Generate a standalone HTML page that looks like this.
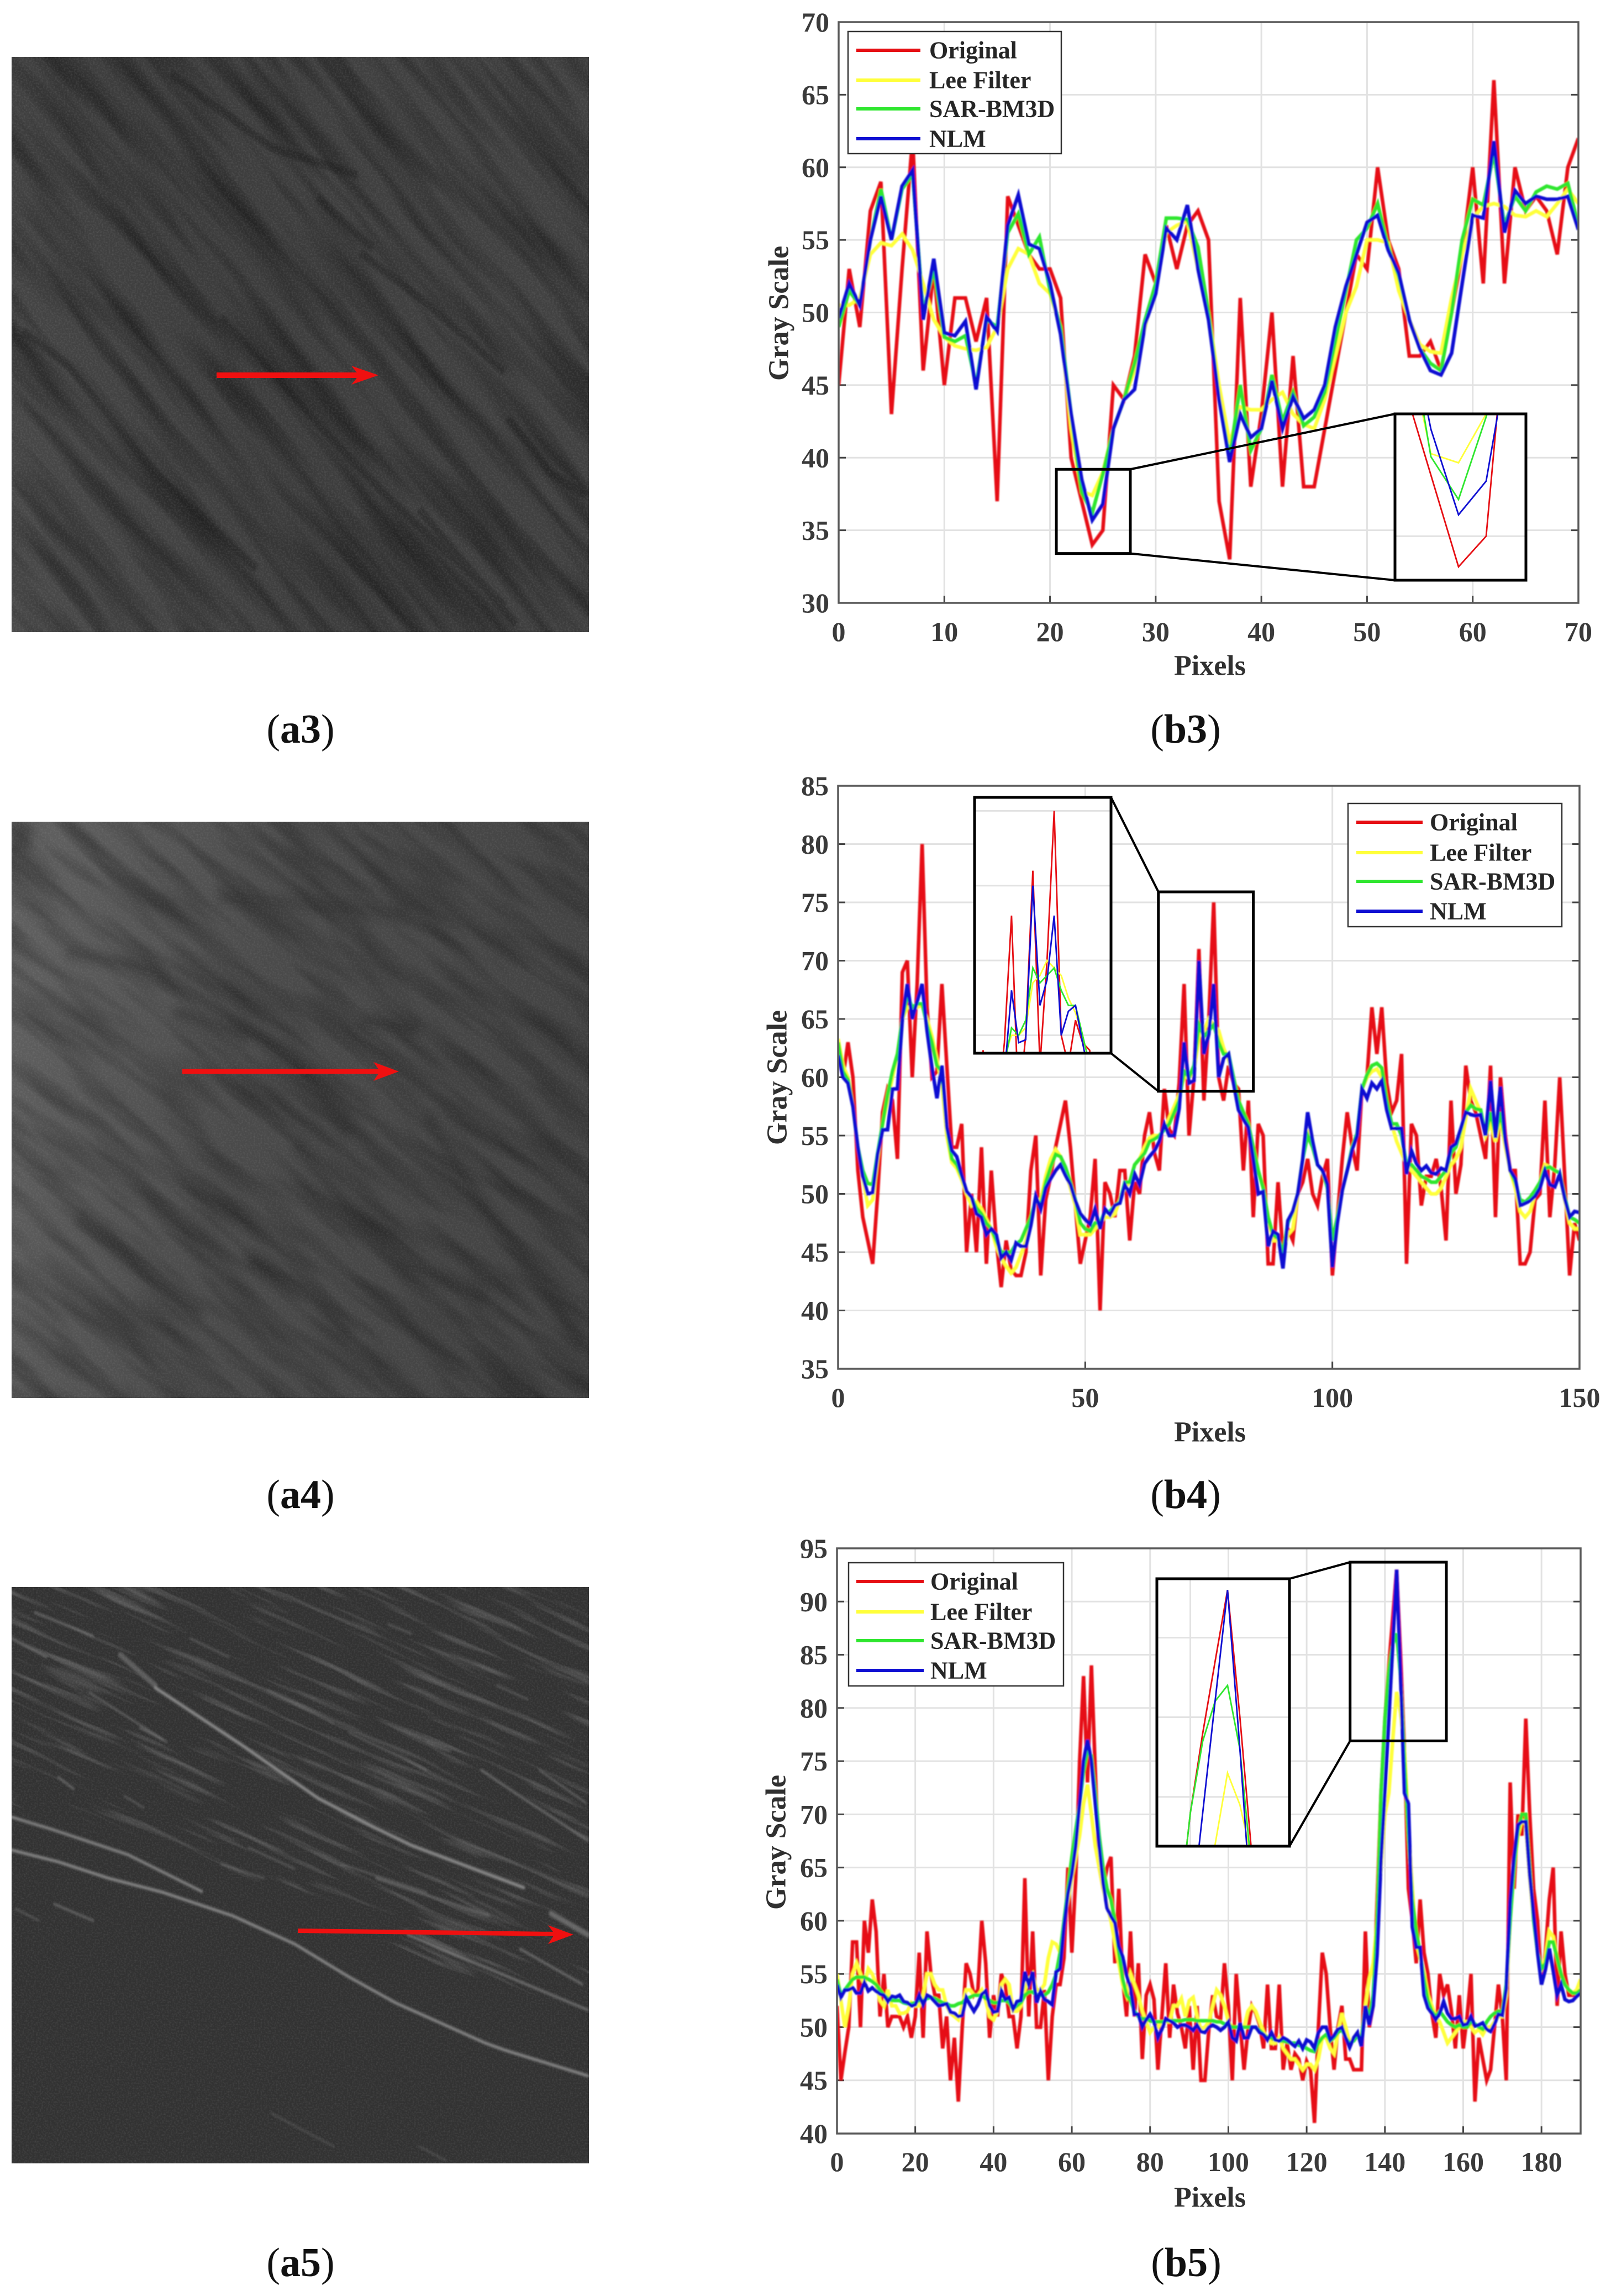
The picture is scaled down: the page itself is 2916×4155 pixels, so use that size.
<!DOCTYPE html>
<html lang="en">
<head>
<meta charset="utf-8">
<title>SAR images and gray-scale profiles</title>
<style>
html,body{margin:0;padding:0;background:#fff;width:2916px;height:4155px;overflow:hidden;}
svg{display:block;}
text{font-family:"Liberation Serif",serif;}
.tick{font-size:50px;font-weight:bold;fill:#3a3a3a;}
.title{font-size:52px;font-weight:bold;fill:#303030;text-anchor:middle;dominant-baseline:central;}
.leg{font-size:44px;font-weight:bold;fill:#262626;dominant-baseline:central;}
.cap{font-size:74px;fill:#111;text-anchor:middle;dominant-baseline:central;}
.cap tspan.b{font-weight:bold;}
.legbox{fill:#fff;stroke:#333;stroke-width:2.5;}
.s{fill:none;stroke-linejoin:miter;}
.s-original{stroke:#e60f14;}
.s-lee{stroke:#ffff3a;}
.s-bm3d{stroke:#2fe62f;}
.s-nlm{stroke:#0f0fd2;}
.grid{stroke:#e2e2e2;stroke-width:3;}
.axis{fill:none;stroke:#5a5a5a;stroke-width:3.5;}
.tk{stroke:#444;stroke-width:3;}
.frame{fill:none;stroke:#000;stroke-width:5;}
.conn{stroke:#000;stroke-width:4;}
</style>
</head>
<body>
<svg xmlns="http://www.w3.org/2000/svg" width="2916" height="4155" viewBox="0 0 2916 4155">
<defs>
  <filter id="soft" x="-2%" y="-2%" width="104%" height="104%"><feGaussianBlur stdDeviation="1.1"/></filter>
  <filter id="b10" x="-30%" y="-30%" width="160%" height="160%"><feGaussianBlur stdDeviation="10"/></filter>
  <filter id="b3" x="-20%" y="-20%" width="140%" height="140%"><feGaussianBlur stdDeviation="2.6"/></filter>
  <filter id="streakA" x="0" y="0" width="100%" height="100%" color-interpolation-filters="sRGB">
    <feTurbulence type="fractalNoise" baseFrequency="0.0028 0.030" numOctaves="3" seed="7"/>
    <feGaussianBlur stdDeviation="3"/>
    <feColorMatrix values="0 0 0 0 0  0 0 0 0 0  0 0 0 0 0  1.5 0 0 0 -0.58"/>
  </filter>
  <filter id="streakB" x="0" y="0" width="100%" height="100%" color-interpolation-filters="sRGB">
    <feTurbulence type="fractalNoise" baseFrequency="0.0045 0.028" numOctaves="3" seed="21"/>
    <feGaussianBlur stdDeviation="3"/>
    <feColorMatrix values="0 0 0 0 0  0 0 0 0 0  0 0 0 0 0  1.4 0 0 0 -0.52"/>
  </filter>
  <filter id="streakC" x="0" y="0" width="100%" height="100%" color-interpolation-filters="sRGB">
    <feTurbulence type="fractalNoise" baseFrequency="0.005 0.07" numOctaves="3" seed="11"/>
    <feGaussianBlur stdDeviation="1.2"/>
    <feColorMatrix values="0 0 0 0 .62  0 0 0 0 .62  0 0 0 0 .62  3.6 0 0 0 -1.95"/>
  </filter>
  <filter id="grain" x="0" y="0" width="100%" height="100%" color-interpolation-filters="sRGB">
    <feTurbulence type="fractalNoise" baseFrequency="0.32" numOctaves="2" seed="3"/>
    <feColorMatrix values="0 0 0 0 1  0 0 0 0 1  0 0 0 0 1  1.2 0 0 0 -0.48"/>
  </filter>
  <pattern id="patA" patternUnits="userSpaceOnUse" x="-257" y="-177" width="1600" height="1600" patternTransform="rotate(50 543 623)">
    <rect width="1600" height="1600" filter="url(#streakA)"/>
  </pattern>
  <pattern id="patB" patternUnits="userSpaceOnUse" x="-257" y="1208" width="1600" height="1600" patternTransform="rotate(38 543 2008)">
    <rect width="1600" height="1600" filter="url(#streakB)"/>
  </pattern>
  <pattern id="patC" patternUnits="userSpaceOnUse" x="-257" y="2593" width="1600" height="1600" patternTransform="rotate(24 543 3393)">
    <rect width="1600" height="1600" filter="url(#streakC)"/>
  </pattern>
  <linearGradient id="a3shade" x1="0" y1="1" x2="1" y2="0.6">
    <stop offset="0" stop-color="#4a4a4a"/><stop offset="0.5" stop-color="#3c3c3c"/><stop offset="1" stop-color="#414141"/>
  </linearGradient>
  <linearGradient id="a4shade" x1="0" y1="0.4" x2="1" y2="0.6">
    <stop offset="0" stop-color="#5e5e5e"/><stop offset="0.4" stop-color="#4a4a4a"/><stop offset="1" stop-color="#424242"/>
  </linearGradient>
  <clipPath id="clip-a3"><rect x="21" y="103" width="1045" height="1041"/></clipPath>
  <clipPath id="clip-a4"><rect x="21" y="1487" width="1045" height="1043"/></clipPath>
  <clipPath id="clip-a5"><rect x="21" y="2872" width="1045" height="1043"/></clipPath>
  <clipPath id="clip-a5-upper"><polygon points="21,2872 1066,2872 1066,3640 800,3560 500,3420 300,3340 21,3290"/></clipPath>
</defs>
<rect width="2916" height="4155" fill="#fff"/>

<!-- SAR image a3 -->
<g clip-path="url(#clip-a3)">
  <rect x="21" y="103" width="1045" height="1041" fill="url(#a3shade)"/>
  <rect x="21" y="103" width="1045" height="1041" fill="url(#patA)" opacity=".6"/>
  <g transform="translate(21,103) scale(.7024,.829) translate(-30,-52)" fill="none" stroke="#151515" stroke-width="18" opacity=".34" filter="url(#b3)">
    <path d="M60 650L180 730L400 960L660 1170"/>
    <path d="M440 90L700 250L920 310"/>
    <path d="M570 620L850 880L1010 1020L1300 1250"/>
    <path d="M930 480L1100 590L1300 740"/>
    <path d="M1310 840L1420 960L1510 1010"/>
    <path d="M820 360L960 470"/>
    <path d="M1080 1040L1330 1290"/>
  </g>
  <rect x="21" y="103" width="1045" height="1041" filter="url(#grain)" opacity=".16"/>
</g>
<g>
  <line x1="392" y1="679" x2="650" y2="679" stroke="#f01010" stroke-width="10"/>
  <polygon points="685,679 636,662 650,679 636,696" fill="#f01010"/>
</g>

<!-- SAR image a4 -->
<g clip-path="url(#clip-a4)">
  <rect x="21" y="1487" width="1045" height="1043" fill="url(#a4shade)"/>
  <rect x="21" y="1487" width="1045" height="1043" fill="url(#patB)" opacity=".5"/>
  <g transform="translate(21,1487) scale(.7024,.829) translate(-30,-57)" fill="none" stroke="#1a1a1a" stroke-width="26" opacity=".32" filter="url(#b10)">
    <path d="M170 340L400 380L620 500L760 570L900 740"/>
    <path d="M450 470L640 530"/>
    <path d="M930 490L1080 510"/>
    <path d="M1100 700L1250 900L1500 1200"/>
    <path d="M760 760L900 900L1040 1020L1250 1100"/>
    <path d="M640 1010L800 1080L900 1180"/>
    <path d="M200 920L380 1050L520 1130"/>
    <path d="M560 220L1050 260" opacity=".7"/>
    <path d="M30 90L80 90" stroke-width="60" opacity="2"/>
  </g>
  <rect x="21" y="1487" width="1045" height="1043" filter="url(#grain)" opacity=".14"/>
</g>
<g>
  <line x1="330" y1="1939" x2="690" y2="1939" stroke="#f01010" stroke-width="9"/>
  <polygon points="722,1939 676,1922 688,1939 676,1956" fill="#f01010"/>
</g>

<!-- SAR image a5 -->
<g clip-path="url(#clip-a5)">
  <rect x="21" y="2872" width="1045" height="1043" fill="#323232"/>
  <g clip-path="url(#clip-a5-upper)">
    <rect x="21" y="2872" width="1045" height="1043" fill="url(#patC)" opacity=".32"/>
  </g>
  <rect x="21" y="2872" width="1045" height="1043" filter="url(#grain)" opacity=".14"/>
  <g transform="translate(21,2872) scale(.7024,.8514) translate(-30,-61)" fill="none" stroke="#939393" stroke-linecap="round" filter="url(#b3)">
    <path stroke-width="6" opacity=".85" d="M30 550L130 575L330 630L520 708"/>
    <path stroke-width="6" opacity=".9" d="M30 620L150 645L280 680L420 710L600 760L760 820L900 890L1020 945L1250 1030L1300 1045L1515 1100"/>
    <path stroke-width="7" opacity=".9" d="M400 275L620 395L820 510L960 570L1060 610L1350 700"/>
    <path stroke-width="12" opacity=".45" d="M310 205L400 270"/>
    <path stroke-width="5" opacity=".5" d="M30 170L120 210"/>
    <path stroke-width="5" opacity=".5" d="M90 115L240 165"/>
    <path stroke-width="4" opacity=".5" d="M230 285L420 385"/>
    <path stroke-width="4" opacity=".5" d="M360 360L430 390"/>
    <path stroke-width="5" opacity=".5" d="M150 465L190 490"/>
    <path stroke-width="4" opacity=".4" d="M320 505L370 530"/>
    <path stroke-width="4" opacity=".4" d="M570 650L680 680"/>
    <path stroke-width="4" opacity=".4" d="M640 615L760 660"/>
    <path stroke-width="5" opacity=".5" d="M970 680L1260 760"/>
    <path stroke-width="4" opacity=".4" d="M880 650L1100 710"/>
    <path stroke-width="5" opacity=".65" d="M1050 800L1515 960"/>
    <path stroke-width="5" opacity=".6" d="M1340 830L1500 905"/>
    <path stroke-width="5" opacity=".55" d="M1240 450L1330 500L1515 600"/>
    <path stroke-width="4" opacity=".4" d="M900 370L1100 450"/>
    <path stroke-width="4" opacity=".4" d="M1100 390L1160 410"/>
    <path stroke-width="4" opacity=".5" d="M1390 450L1510 520"/>
    <path stroke-width="12" opacity=".55" d="M1420 755L1515 800"/>
    <path stroke-width="4" opacity=".4" d="M490 170L590 210"/>
    <path stroke-width="4" opacity=".4" d="M1000 140L1060 160"/>
    <path stroke-width="5" opacity=".5" d="M140 735L240 770"/>
    <path stroke-width="4" opacity=".4" d="M40 745L100 770"/>
    <path stroke-width="4" opacity=".3" d="M700 1180L860 1250"/>
    <path stroke-width="4" opacity=".4" d="M1280 270L1360 300"/>
    <path stroke-width="4" opacity=".35" d="M690 280L860 350"/>
    <path stroke-width="4" opacity=".3" d="M1080 1250L1150 1280"/>
  </g>
</g>
<g>
  <line x1="539" y1="3494" x2="1005" y2="3500" stroke="#f01010" stroke-width="8"/>
  <polygon points="1038,3501 992,3484 1004,3500 992,3518" fill="#f01010"/>
</g>

<!-- Chart b3 -->
<g>
  <g id="b3-plot"></g>
  <g>
    <rect class="legbox" x="1535" y="57" width="386" height="221"/>
    <line class="s s-original" stroke-width="6" x1="1550" y1="91" x2="1666" y2="91"/>
    <text class="leg" x="1682" y="91">Original</text>
    <line class="s s-lee" stroke-width="6" x1="1550" y1="145" x2="1666" y2="145"/>
    <text class="leg" x="1682" y="145">Lee Filter</text>
    <line class="s s-bm3d" stroke-width="6" x1="1550" y1="197" x2="1666" y2="197"/>
    <text class="leg" x="1682" y="197">SAR-BM3D</text>
    <line class="s s-nlm" stroke-width="6" x1="1550" y1="251" x2="1666" y2="251"/>
    <text class="leg" x="1682" y="251">NLM</text>
  </g>
  <text class="title" x="2190" y="1205">Pixels</text>
  <text class="title" transform="translate(1410,567) rotate(-90)">Gray Scale</text>
</g>

<!-- Chart b4 -->
<g>
  <g id="b4-plot"></g>
  <g>
    <rect class="legbox" x="2440" y="1454" width="387" height="223"/>
    <line class="s s-original" stroke-width="6" x1="2455" y1="1488" x2="2575" y2="1488"/>
    <text class="leg" x="2588" y="1488">Original</text>
    <line class="s s-lee" stroke-width="6" x1="2455" y1="1543" x2="2575" y2="1543"/>
    <text class="leg" x="2588" y="1543">Lee Filter</text>
    <line class="s s-bm3d" stroke-width="6" x1="2455" y1="1595" x2="2575" y2="1595"/>
    <text class="leg" x="2588" y="1595">SAR-BM3D</text>
    <line class="s s-nlm" stroke-width="6" x1="2455" y1="1649" x2="2575" y2="1649"/>
    <text class="leg" x="2588" y="1649">NLM</text>
  </g>
  <text class="title" x="2190" y="2592">Pixels</text>
  <text class="title" transform="translate(1407,1950) rotate(-90)">Gray Scale</text>
</g>

<!-- Chart b5 -->
<g>
  <g id="b5-plot"></g>
  <g>
    <rect class="legbox" x="1536" y="2828" width="389" height="223"/>
    <line class="s s-original" stroke-width="6" x1="1550" y1="2862" x2="1672" y2="2862"/>
    <text class="leg" x="1684" y="2862">Original</text>
    <line class="s s-lee" stroke-width="6" x1="1550" y1="2917" x2="1672" y2="2917"/>
    <text class="leg" x="1684" y="2917">Lee Filter</text>
    <line class="s s-bm3d" stroke-width="6" x1="1550" y1="2969" x2="1672" y2="2969"/>
    <text class="leg" x="1684" y="2969">SAR-BM3D</text>
    <line class="s s-nlm" stroke-width="6" x1="1550" y1="3023" x2="1672" y2="3023"/>
    <text class="leg" x="1684" y="3023">NLM</text>
  </g>
  <text class="title" x="2190" y="3977">Pixels</text>
  <text class="title" transform="translate(1405,3334) rotate(-90)">Gray Scale</text>
</g>

<!-- Captions -->
<text class="cap" x="544" y="1320">(<tspan class="b">a3</tspan>)</text>
<text class="cap" x="2146" y="1320">(<tspan class="b">b3</tspan>)</text>
<text class="cap" x="544" y="2705">(<tspan class="b">a4</tspan>)</text>
<text class="cap" x="2146" y="2705">(<tspan class="b">b4</tspan>)</text>
<text class="cap" x="544" y="4095">(<tspan class="b">a5</tspan>)</text>
<text class="cap" x="2147" y="4095">(<tspan class="b">b5</tspan>)</text>
</svg>

<script>
/* ---------- Chart b3 values (index = pixel) ---------- */
const b3XTicks = [0,10,20,30,40,50,60,70];
const b3YTicks = [30,35,40,45,50,55,60,65,70];
const b3Original = [
45,53,49,57,59,43,53,62,46,53,
45,51,51,48,51,37,58,56,54,53,
53,51,40,37,34,35,45,44,47,54,
52,56,53,56,57,55,37,33,51,38,
43,50,38,47,38,38,42,46,50,54,
53,60,55,53,47,47,48,46,50,54,
60,52,66,52,60,57,58,57,54,60,
62];
const b3Lee = [
50.5,50.5,51,54,54.8,54.6,55.4,54.3,52,49.5,
48.3,47.7,47.5,47.4,47.6,49,53,54.4,54,52,
51.3,49,42,37.7,37.4,39,42,44,46,49,
52,55.5,56,56.3,53,50,45,41,43.5,43.3,
43.3,44,44.5,43,42.3,42,44,47,50,51.8,
55,55,54.8,51.5,49.5,47.8,47.3,47.2,51,54,
56.5,57.3,57.5,57.3,56.7,56.6,57,56.6,57.5,58.5,
57.5];
const b3Bm3d = [
49,51.5,50.5,55,58.5,55,58.5,59.5,50,53,
48.3,48,48.4,45,49.5,49,55.5,56.8,54,55.2,
51.5,49,43,37.6,36.2,38.9,42,44,46.5,49.5,
52,56.5,56.5,56.4,54.5,50,44,40,45,40.5,
42,45.7,42.5,44.5,42.2,42.8,44.5,48,51.5,55,
55.8,57.5,54.5,52.5,49.5,47.5,46.5,46,50,55,
57.8,57.4,61,56,58,57,58.3,58.7,58.5,58.9,
56];
const b3Nlm = [
49.6,52,50.5,55,58,55,58.7,59.8,49.5,53.7,
48.6,48.4,49.4,44.7,49.7,48.7,56,58.1,54.7,54.4,
52,48.5,43,38.5,35.7,36.8,42,44,44.7,49.2,
51.3,55.8,55,57.4,53,49.5,44,39.7,43,41.4,
42,45.3,42,44.2,42.7,43.3,45,49,51.8,54,
56.2,56.7,54.3,52.7,49.5,47.5,46,45.7,47.2,52,
56.7,56.5,61.8,55.5,58.4,57.5,58,57.8,57.8,58,
55.7];

/* ---------- Chart b4 values ---------- */
const b4XTicks = [0,50,100,150];
const b4YTicks = [35,40,45,50,55,60,65,70,75,80,85];
const b4Original = [
62,60,63,60,52,48,46,44,50,57,
59,58,53,69,70,60,68,80,66,60,
60.5,68,61,54,54,56,45,50,45,54,
44,52,46,42,46,43.5,43,43,45,52,
55,43,49.5,51.5,54,56,58,54,49,44,
46,48,53,40,51,50,48,52,52,46,
51,50,55,57,53.5,52,59,55.5,55,59.5,
68,55,60,71,58,65,75,60,58,61,
59.5,59,52,58,48,56,55,44,44,51,
45,47,46,50,51,53,50,49,51.5,53,
43,48,53,57,54,52,59,60,66,62,
66,59.5,57,58,62,44,56,55,49,51.5,
51.5,53,50.5,46,58,50,52.5,61,58,57,
55,53,61,48,60,55,52,52,44,44,
45,49.5,50,58,48,52.5,60,51.5,43,47.5,
46];
const b4Lee = [
63.3,61,60,57.5,54,51.5,49,49.5,53,56,
58,60,62,65,66,66,66,66.2,65,63.5,
61.5,59.5,55,52.7,52.2,51.2,50,49,49.3,48.7,
47.8,47,45.5,44.5,43.8,43.2,43.7,44.8,46,48,
49.5,49.5,51.5,53,53.8,53.2,52,50.5,49,46.5,
46.5,46.5,47,47.5,48,48,48.3,49.5,50.5,51,
52.5,53,54,54.8,55,55,55.5,56.5,57.5,58.5,
60,60,60.5,63.5,64,65,64.5,64,62.5,61.5,
60,58,57,56,54,52,50.5,48,46,46,
45,46.5,47,50,53,55.5,54,52.5,52,50.5,
46,48,50.3,52,54,55,59,60,60.5,60.7,
60,57.5,56,54.5,53.5,52.5,52,51.5,51,50.5,
50,50,50.5,51.5,52.5,53,54,56.5,59,58,
57,55,56,54.5,56.5,54,52,50.5,48.5,48,
48.5,50,51,52.5,52.3,52,51.8,49.5,47.5,47,
47];
const b4Bm3d = [
63,60.5,59.8,57.5,54,52,50.9,50.8,53.5,56,
58.5,60.5,62,65,67,66,66.3,66.3,64.5,63,
61,60.5,55.7,53,52.5,51.5,50.2,49.7,48.8,48.3,
47.5,47,46,45,45,45,45.7,46,47,48,
49.5,49,51,52.3,53.4,53.2,52.3,51,49.5,47.5,
47,46.8,47.5,47.5,48.5,48.5,49,49.3,51,51,
52.5,53,53.5,54.5,54.7,55,55.5,56,57,58,
60.5,60,61,64.5,63.5,64,64.5,63,62,62,
60,58,57,56,54,52,50.5,48,46.5,46.2,
45,47.5,48.5,50,53,55,54,52.5,52,50.5,
46,48,50.3,52,54,55.2,59,60.2,61,61.2,
60.8,58,56,56,55,52.5,52.5,52,51.5,51.3,
51,51,51.5,52,53.5,54,55.5,57,57.6,57.3,
57.2,55,57,55,57,54.5,52,51,49.5,49.3,
49.7,50.3,51,52.2,52.3,52,51.8,49.8,48,47.8,
47.5];
const b4Nlm = [
61.9,60,59.5,57.5,54,51.5,50,50.1,53.4,55.5,
55.5,59,59,65,68,65,66.5,68,64,60.8,
58.2,61,55.7,53.7,53.2,51.6,50.2,49.7,48.3,48,
46.5,47,46.5,44.5,45,44.3,45.8,45.5,45.5,47.3,
49.8,48.7,50.5,51.3,52,52.5,51.6,50.8,49.4,48.3,
47.8,47.4,48.7,47,48.7,48.2,49,49.2,50.8,50,
51.7,50.8,52.6,53.2,53.7,54.5,56,55,55,57.3,
63,59.5,59.7,70,62,63.7,68,60,61.6,62,
59.5,57.2,56.4,55.7,53,50,50.2,45.5,46.8,46.5,
43.6,47.7,48.5,50,53,57,54.5,52.5,52,50.8,
43.7,47.5,50.3,52,53.8,55,59,58.2,59.5,59,
59.7,57.2,55.6,55.6,55.6,51.7,53.7,52.6,52,52.4,
51.8,51.7,52.2,52,54,54.3,55.6,57,56.8,56.7,
56.8,55,59.7,54.8,59.2,54.5,52,51.3,49,49.2,
49.4,49.8,50.5,52,50.8,50.6,51.7,49.6,48,48.5,
48.4];

/* ---------- Chart b5 values ---------- */
const b5XTicks = [0,20,40,60,80,100,120,140,160,180];
const b5YTicks = [40,45,50,55,60,65,70,75,80,85,90,95];
const b5Original = [
52,45,47.6,50,58,58,50,60,57,62,
59,51,55,50,51,51,51,50,51,49,
51,57,49,59,55,53,53,48,51,45,
49,43,50,56,55,53,53.5,60,56,49,
53,51,55,54,51,51,48,51,64,51,
59,50,50,53.5,45,51,54,54,56.5,65,
57,64,75,83,73,84,74,65,63,65,
66,56,63,54.5,51,59,51,56,47,53,
54,52.6,46,51,56,49,54,51.3,50,48,
52,46,52,45,45,49.7,53,51,50.8,56,
52,45,55,50.3,46,49.7,52,51.3,50.2,48,
54,48,48,54,46,48.5,46,47.5,47,45,
46.8,46,41,50,57,55,50,46,50,52,
47,47,46,46,46,59,50,52,62,72,
79,84,88.5,93,85,76,63,60,56,62,
57,55,51.3,49,55,53,54,51.5,48,53,
48,51,55,43,49,47,45,46,50,54,
51,45,73,63,70,68,79,70,63,60,
54,57,62,65,52,59,55,53,53,53,
53.5];
const b5Lee = [
55,52.5,50,52,55,56,55,54,55.5,55,
54,52.5,52,53.5,52,52,51.3,51.3,51.5,52.3,
52,52,53,55,55,54,53.5,53.5,52,51.3,
51,50.7,52,53.5,53.5,53,53,53.5,52.5,51,
50.7,51.5,54,54.5,54,51.5,51.5,52,53.5,54.5,
55,53.5,53.5,54,56.5,58,57.8,57,60,62,
64,66,68,71,72.8,70,67,65,63,61.5,
60,58,56,54,53,55,54,53,51.5,50.5,
49.5,50,50,50.5,50.5,50.5,52,52,52.7,51,
52.5,52.8,51,49.8,50,50.5,52,53.5,53,52,
50.5,50,50,50,50,51.5,52,51.5,50.5,49.5,
49,48.5,48.5,49,48,47.5,47,47,46.5,46,
46.5,46.5,46,47,49,49,48,47.5,49.5,51.3,
50,48.5,49,49.5,49,52,54.5,56,60,65,
70,72,77,81.5,79.5,76,69,63,58,56.5,
55,53,52,51,50.5,49.5,48.5,49,49.5,50,
50.5,50.5,50,49.5,49.8,49.3,50,50,50.5,51,
51,53,60,65,68,69.5,69,64,60,57,
55.5,56.5,59,58.5,56.5,55,54,53.5,53.2,53.5,
54.5];
const b5Bm3d = [
54.5,53,53.5,54,54.5,54.7,54.7,54.7,54.5,54.3,
54,53.5,53,52.7,52.5,52.5,52.5,52.3,52.2,52.2,
52.3,52.5,52.5,52.7,52.8,52.7,52.5,52.3,52.2,52,
52,52.2,52.3,52.7,52.8,53,53,53,52.7,52.5,
52.3,52.3,52.5,52.5,52.3,51.7,52,52.3,53,53.3,
53.3,53,53,53,53.3,54,55,57,60,63,
66,68.5,71,74,76,75.5,72,68,65,63,
62,60,57,54.5,53,52.5,51.5,51,50.8,50.8,
50.6,50.5,50.5,50.5,50.6,50.6,50.6,50.6,50.6,50.7,
50.7,50.7,50.6,50.6,50.6,50.6,50.6,50.5,50.5,50.3,
50.2,50,50,50,50,50,50,50,49.7,49.3,
49,49,48.8,48.7,48.7,48.6,48.5,48.5,48.3,48.2,
48,47.8,47.7,48.5,49,49.3,48.7,49,49.5,49.8,
49,48.5,48.7,49.2,49,52,51,53,60,72,
79,83.5,86,87,83,75,68,62,59,57,
54.5,52.5,51.5,51,51.5,51,50.5,50.2,50,50.2,
50,50,50.5,50.3,50,49.8,50.5,51,51.3,51.5,
51.5,54,60,65,68.5,70,70,65,60,57,
55.5,56,58,58,56.5,55,54,53.5,53.2,53.2,
53.5];
const b5Nlm = [
54,52.8,53.5,53.5,53.7,53.2,53.2,54.2,53.4,53.7,
53.4,53.1,53,52.4,52.9,52.8,53,52.4,52.3,52,
52.1,53,52.1,53,52.8,52.4,52,52.1,52.2,51.4,
51.3,51,51.1,52.8,52.1,51.5,52.1,53.1,53.4,52,
51.4,51.5,53.4,52.6,52.8,51.7,52.4,52.5,55.2,54,
55.2,52.3,53.4,52.6,52.4,52.1,55.2,55.5,59.5,62.5,
64.4,67,71,75,77,75,71,67,63.5,61.2,
60.4,59.8,57.6,56.6,54.9,53.7,51.2,51.2,50,50.7,
51.2,50.5,49,49.8,50.8,50.6,50.4,50,50.2,50.2,
50,49.7,50.2,49.6,49.5,50,50.2,50,49.7,50,
50.5,49,48.7,50.4,49,49,50,50,49.5,49.3,
48.8,49.5,48.8,48.7,49,48.8,48.5,48.2,48.7,48,
48.8,48.6,48,49.5,50,50,48.8,49.2,49.8,50,
49,48.1,49,49.5,48.2,52,50.2,52,56.8,65.7,
72,79,86,93,83,72,71,59.4,57.5,57.5,
53,51.8,51.3,50.7,51.3,52.4,51.3,50.8,50.8,51,
50.2,50.3,51,50.1,50.2,50.4,49.8,49.6,50.3,51.2,
51.1,53.6,61.8,66,69,69.3,69.3,64.3,60.5,57,
54,55.4,57.4,55.3,53,54,52.6,52.4,52.5,52.9,
53.2];

const seriesKeys = ['original','lee','bm3d','nlm'];

const NS = 'http://www.w3.org/2000/svg';
function linearScale(d0, d1, r0, r1){
  return function(v){ return r0 + (v - d0) * (r1 - r0) / (d1 - d0); };
}
function mk(tag, parent, cls){
  const el = document.createElementNS(NS, tag);
  if (cls) el.setAttribute('class', cls);
  parent.appendChild(el);
  return el;
}
function seriesPoints(values, sx, sy){
  return values.map(function(v, i){ return sx(i).toFixed(1) + ',' + sy(v).toFixed(1); }).join(' ');
}
/* Only the samples around the magnified window, so the inset geometry stays on the page. */
function windowPoints(values, sx, sy, from, to){
  const out = [];
  values.forEach(function(v, i){
    if (i >= Math.floor(from) - 1 && i <= Math.ceil(to) + 1) {
      out.push(sx(i).toFixed(1) + ',' + sy(v).toFixed(1));
    }
  });
  return out.join(' ');
}
function addClip(root, id, x, y, w, h){
  const cp = mk('clipPath', root);
  cp.setAttribute('id', id);
  const r = mk('rect', cp);
  r.setAttribute('x', x);
  r.setAttribute('y', y);
  r.setAttribute('width', w);
  r.setAttribute('height', h);
}
function addGrid(parent, xTicks, yTicks, sx, sy, x0, x1, y0, y1, cls){
  xTicks.forEach(function(t){
    const l = mk('line', parent, cls);
    l.setAttribute('x1', sx(t));
    l.setAttribute('x2', sx(t));
    l.setAttribute('y1', y0);
    l.setAttribute('y2', y1);
    
    
  });
  yTicks.forEach(function(t){
    const l = mk('line', parent, cls);
    l.setAttribute('x1', x0);
    l.setAttribute('x2', x1);
    l.setAttribute('y1', sy(t));
    l.setAttribute('y2', sy(t));
    
    
  });
}
function drawChart(id, box, xDomain, yDomain, xTicks, yTicks, series, inset){
  const root = document.getElementById(id + '-plot');
  const sx = linearScale(xDomain[0], xDomain[1], box.left, box.right);
  const sy = linearScale(yDomain[0], yDomain[1], box.bottom, box.top);
  addClip(root, id + '-clip', box.left, box.top, box.right - box.left, box.bottom - box.top);
  addClip(root, id + '-inset-clip', inset.x0, inset.y0, inset.x1 - inset.x0, inset.y1 - inset.y0);

  addGrid(root, xTicks, yTicks, sx, sy, box.left, box.right, box.top, box.bottom, 'grid');

  xTicks.forEach(function(t){
    const k = mk('line', root, 'tk');
    k.setAttribute('x1', sx(t));
    k.setAttribute('x2', sx(t));
    k.setAttribute('y1', box.bottom);
    k.setAttribute('y2', box.bottom - 13);
    
    
    const lab = mk('text', root, 'tick');
    lab.setAttribute('x', sx(t));
    lab.setAttribute('y', box.xLabelY);
    lab.setAttribute('text-anchor', 'middle');
    lab.setAttribute('dominant-baseline', 'central');
    
    
    lab.textContent = t;
  });
  yTicks.forEach(function(t){
    const k = mk('line', root, 'tk');
    k.setAttribute('x1', box.left);
    k.setAttribute('x2', box.left + 13);
    k.setAttribute('y1', sy(t));
    k.setAttribute('y2', sy(t));
    
    
    const k2 = mk('line', root, 'tk');
    k2.setAttribute('x1', box.right);
    k2.setAttribute('x2', box.right - 13);
    k2.setAttribute('y1', sy(t));
    k2.setAttribute('y2', sy(t));
    
    
    const lab = mk('text', root, 'tick');
    lab.setAttribute('x', box.left - 17);
    lab.setAttribute('y', sy(t));
    lab.setAttribute('text-anchor', 'end');
    lab.setAttribute('dominant-baseline', 'central');
    
    
    lab.textContent = t;
  });

  const main = mk('g', root);
  main.setAttribute('clip-path', 'url(#' + id + '-clip)');
  main.setAttribute('filter', 'url(#soft)');
  
  
  series.forEach(function(values, i){
    const p = mk('polyline', main, 's s-' + seriesKeys[i]);
    p.setAttribute('points', seriesPoints(values, sx, sy));
    p.setAttribute('stroke-width', '6.5');
    
    
  });

  const frame = mk('rect', root, 'axis');
  frame.setAttribute('x', box.left);
  frame.setAttribute('y', box.top);
  frame.setAttribute('width', box.right - box.left);
  frame.setAttribute('height', box.bottom - box.top);
  
  

  /* zoom inset: source rectangle, connectors, magnified copy */
  const srcX0 = sx(inset.srcX[0]), srcX1 = sx(inset.srcX[1]);
  const srcY0 = sy(inset.srcY[0]), srcY1 = sy(inset.srcY[1]);
  const src = mk('rect', root, 'frame');
  src.setAttribute('x', srcX0);
  src.setAttribute('y', srcY0);
  src.setAttribute('width', srcX1 - srcX0);
  src.setAttribute('height', srcY1 - srcY0);
  
  

  inset.connectors.forEach(function(c){
    const l = mk('line', root, 'conn');
    l.setAttribute('x1', (c === 'tl' || c === 'bl') ? srcX1 : srcX0);
    l.setAttribute('y1', (c === 'tl' || c === 'tr') ? srcY0 : srcY1);
    l.setAttribute('x2', (c === 'tl' || c === 'bl') ? inset.x0 : inset.x1);
    l.setAttribute('y2', (c === 'tl' || c === 'tr') ? inset.y0 : inset.y1);
    
    
  });

  const bg = mk('rect', root);
  bg.setAttribute('x', inset.x0);
  bg.setAttribute('y', inset.y0);
  bg.setAttribute('width', inset.x1 - inset.x0);
  bg.setAttribute('height', inset.y1 - inset.y0);
  bg.setAttribute('fill', '#fff');
  
  

  const ix = linearScale(inset.viewX[0], inset.viewX[1], inset.x0, inset.x1);
  const iy = linearScale(inset.viewY[0], inset.viewY[1], inset.y0, inset.y1);
  const ig = mk('g', root);
  ig.setAttribute('clip-path', 'url(#' + id + '-inset-clip)');
  
  
  const insetXTicks = xTicks.filter(function(t){ return t >= inset.viewX[0] && t <= inset.viewX[1]; });
  const insetYTicks = yTicks.filter(function(t){ return t <= inset.viewY[0] && t >= inset.viewY[1]; });
  addGrid(ig, insetXTicks, insetYTicks, ix, iy, inset.x0, inset.x1, inset.y0, inset.y1, 'grid');
  series.forEach(function(values, i){
    const p = mk('polyline', ig, 's s-' + seriesKeys[i]);
    p.setAttribute('points', windowPoints(values, ix, iy, inset.viewX[0], inset.viewX[1]));
    p.setAttribute('stroke-width', '2.8');
    
    
  });
  const ifr = mk('rect', root, 'frame');
  ifr.setAttribute('x', inset.x0);
  ifr.setAttribute('y', inset.y0);
  ifr.setAttribute('width', inset.x1 - inset.x0);
  ifr.setAttribute('height', inset.y1 - inset.y0);
  
  
}

drawChart('b3',
  {left:1518, right:2857, top:40, bottom:1091, xLabelY:1143},
  [0,70], [30,70], b3XTicks, b3YTicks,
  [b3Original, b3Lee, b3Bm3d, b3Nlm],
  {x0:2525, x1:2762, y0:749, y1:1050, srcX:[20.6,27.6], srcY:[39.2,33.4], viewX:[21.7,26.44], viewY:[39,33.56], connectors:['tl','bl']});

drawChart('b4',
  {left:1517, right:2859, top:1422, bottom:2477, xLabelY:2529},
  [0,150], [35,85], b4XTicks, b4YTicks,
  [b4Original, b4Lee, b4Bm3d, b4Nlm],
  {x0:1764, x1:2011, y0:1443, y1:1906, srcX:[64.8,84], srcY:[75.9,58.8], viewX:[64.8,84], viewY:[75.9,58.8], connectors:['tr','br']});

drawChart('b5',
  {left:1515, right:2861, top:2802, bottom:3861, xLabelY:3912},
  [0,190], [40,95], b5XTicks, b5YTicks,
  [b5Original, b5Lee, b5Bm3d, b5Nlm],
  {x0:2094, x1:2334, y0:2857, y1:3341, srcX:[131.1,155.7], srcY:[93.7,76.9], viewX:[137.3,148], viewY:[93.7,76.9], connectors:['tr','br']});
</script>
</body>
</html>
